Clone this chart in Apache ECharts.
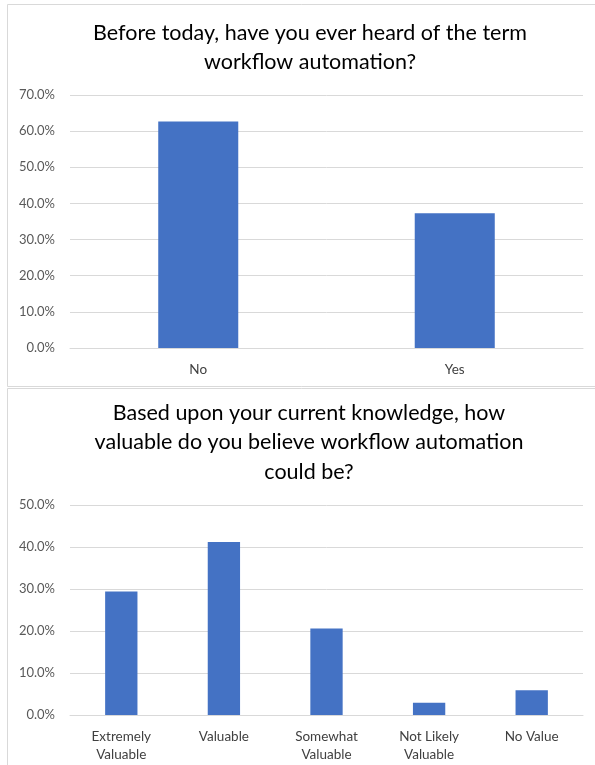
<!DOCTYPE html>
<html>
<head>
<meta charset="utf-8">
<script src="https://cdn.jsdelivr.net/npm/echarts@6/dist/echarts.min.js"></script>
<style>
html,body{margin:0;padding:0;background:#fff;}
#chart{width:595px;height:765px;}
</style>
</head>
<body>
<div id="chart"></div>
<script>
// Chart 1 data
const title1 = 'Before today, have you ever heard of the term\nworkflow automation?';
const categories1 = ['No', 'Yes'];
const values1 = [62.7, 37.3];
const yTicks1 = { min: 0, max: 70, interval: 10 };

// Chart 2 data
const title2 = 'Based upon your current knowledge, how\nvaluable do you believe workflow automation\ncould be?';
const categories2 = ['Extremely\nValuable', 'Valuable', 'Somewhat\nValuable', 'Not Likely\nValuable', 'No Value'];
const values2 = [29.4, 41.2, 20.6, 2.9, 5.9];
const yTicks2 = { min: 0, max: 50, interval: 10 };

const FONT = 'Lato';
const BAR = '#4472C4';
const GRID = '#d9d9d9';
const LABEL = '#595959';

function yAxis(idx, t) {
  return {
    type: 'value', gridIndex: idx, min: t.min, max: t.max, interval: t.interval,
    axisLine: { show: false }, axisTick: { show: false },
    splitLine: { lineStyle: { color: GRID, width: 1 } },
    axisLabel: { color: LABEL, fontFamily: FONT, fontSize: 13, margin: 15,
      formatter: v => v.toFixed(1) + '%' }
  };
}
function xAxis(idx, cats) {
  return {
    type: 'category', gridIndex: idx, data: cats,
    axisLine: { lineStyle: { color: GRID, width: 1 } },
    axisTick: { show: false },
    axisLabel: { color: '#404040', fontFamily: FONT, fontSize: 13.5, margin: 13, lineHeight: 18, interval: 0 }
  };
}

const chart = echarts.init(document.getElementById('chart'), null, { renderer: 'canvas' });
chart.setOption({
  animation: false,
  backgroundColor: '#fff',
  title: [
    { text: title1, left: 305, top: 13, textAlign: 'center',
      textStyle: { fontFamily: FONT, fontSize: 21.5, fontWeight: 'normal', color: '#000', lineHeight: 29.5 } },
    { text: title2, left: 304, top: 393, textAlign: 'center',
      textStyle: { fontFamily: FONT, fontSize: 21.5, fontWeight: 'normal', color: '#000', lineHeight: 29.5 } }
  ],
  graphic: [
    { type: 'rect', shape: { x: 7.5, y: 4.5, width: 600, height: 382 }, style: { fill: 'none', stroke: GRID, lineWidth: 1 }, silent: true },
    { type: 'rect', shape: { x: 7.5, y: 388.5, width: 600, height: 400 }, style: { fill: 'none', stroke: GRID, lineWidth: 1 }, silent: true }
  ],
  grid: [
    { left: 70, right: 12, top: 95, height: 253 },
    { left: 70, right: 12, top: 505, height: 210 }
  ],
  xAxis: [xAxis(0, categories1), xAxis(1, categories2)],
  yAxis: [yAxis(0, yTicks1), yAxis(1, yTicks2)],
  series: [
    { type: 'bar', xAxisIndex: 0, yAxisIndex: 0, data: values1, barWidth: '31.2%', itemStyle: { color: BAR } },
    { type: 'bar', xAxisIndex: 1, yAxisIndex: 1, data: values2, barWidth: '31.5%', itemStyle: { color: BAR } }
  ]
});
</script>
</body>
</html>
